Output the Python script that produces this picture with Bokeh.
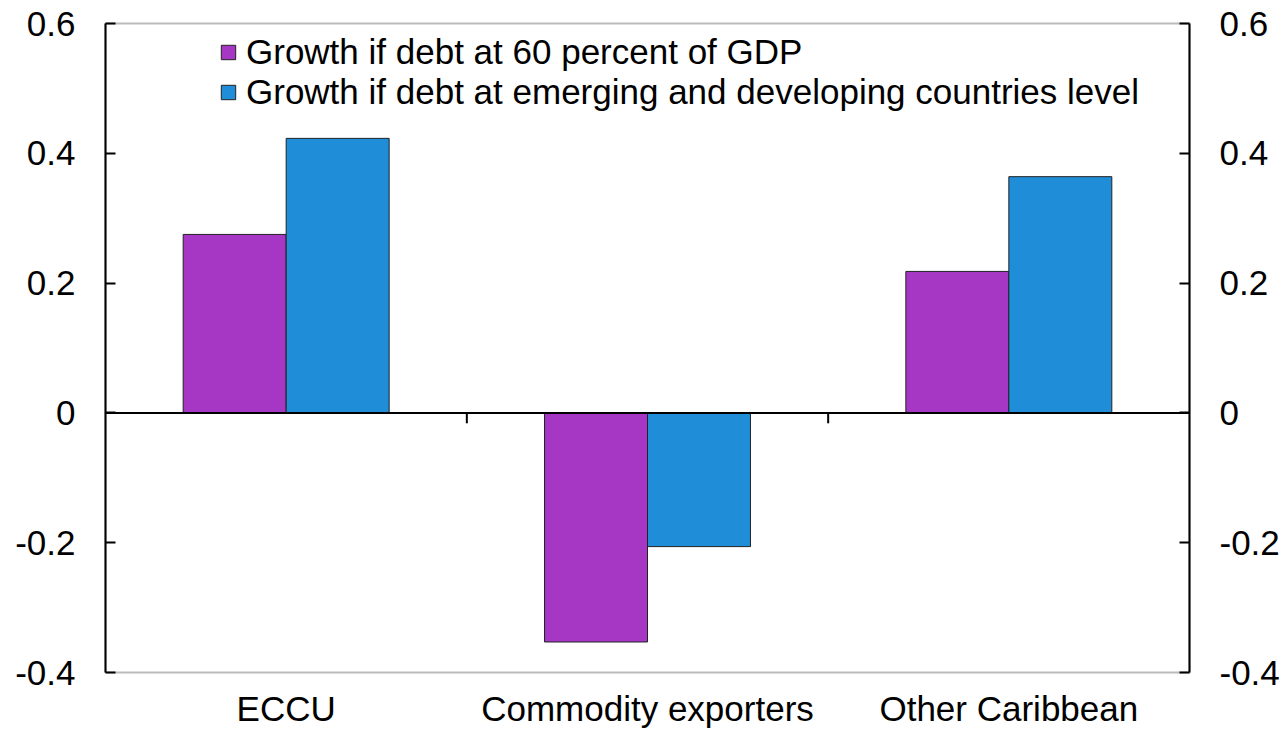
from bokeh.plotting import figure
from bokeh.models import (Range1d, LinearAxis, FixedTicker, CustomJSTickFormatter,
                          Span, Legend, LegendItem, ColumnDataSource)
from bokeh.embed import file_html
from bokeh.resources import INLINE

categories = ["ECCU", "Commodity exporters", "Other Caribbean"]
growth_60 = [0.275, -0.353, 0.218]
growth_emdc = [0.423, -0.206, 0.364]
series_names = ["Growth if debt at 60 percent of GDP",
                "Growth if debt at emerging and developing countries level"]
y_ticks = [-0.4, -0.2, 0.0, 0.2, 0.4, 0.6]

FONT = "Liberation Sans"
FS = "35px"
PURPLE = "#A537C4"
BLUE = "#1F8DD8"

n = len(categories)
centers = [i + 0.5 for i in range(n)]
bw = 0.285

src = ColumnDataSource(dict(
    x60=[c - bw / 2 for c in centers],
    xem=[c + bw / 2 for c in centers],
    g60=growth_60, gem=growth_emdc))

p = figure(width=1285, height=736, output_backend="svg", toolbar_location=None,
           x_range=Range1d(0, n), y_range=Range1d(y_ticks[0], y_ticks[-1]),
           min_border_left=105, min_border_right=96, min_border_top=23,
           min_border_bottom=64)
p.background_fill_color = "white"
p.border_fill_color = "white"
p.outline_line_color = "#BBBBBB"
p.outline_line_width = 2
p.grid.visible = False

r1 = p.vbar(x="x60", top="g60", bottom=0, width=bw, source=src,
            fill_color=PURPLE, line_color="#222222", line_width=1)
r2 = p.vbar(x="xem", top="gem", bottom=0, width=bw, source=src,
            fill_color=BLUE, line_color="#222222", line_width=1)

p.add_layout(Span(location=0, dimension="width", line_color="black", line_width=2))

# boundary ticks below the zero line
bounds = list(range(1, n))
p.segment(x0=bounds, x1=bounds, y0=[0] * len(bounds), y1=[-0.016] * len(bounds),
          line_color="black", line_width=2)

fmt = CustomJSTickFormatter(code="return Math.abs(tick) < 1e-9 ? '0' : tick.toFixed(1);")

yl = p.yaxis[0]
yl.ticker = FixedTicker(ticks=y_ticks)
yl.formatter = fmt

yr = LinearAxis(ticker=FixedTicker(ticks=y_ticks), formatter=fmt)
p.add_layout(yr, "right")

for ax in (yl, yr):
    ax.axis_line_color = "black"
    ax.axis_line_width = 2
    ax.major_tick_in = 10
    ax.major_tick_out = 0
    ax.major_tick_line_color = "black"
    ax.major_tick_line_width = 2
    ax.minor_tick_line_color = None
    ax.major_label_text_font = FONT
    ax.major_label_text_font_size = FS
    ax.major_label_text_color = "black"
    ax.major_label_standoff = 30

xa = p.xaxis[0]
xa.ticker = FixedTicker(ticks=centers)
xa.major_label_overrides = {c: name for c, name in zip(centers, categories)}
xa.axis_line_color = None
xa.major_tick_line_color = None
xa.major_tick_in = 0
xa.major_tick_out = 0
xa.minor_tick_line_color = None
xa.major_label_text_font = FONT
xa.major_label_text_font_size = FS
xa.major_label_text_color = "black"
xa.major_label_standoff = 16

legend = Legend(items=[LegendItem(label=series_names[0], renderers=[r1]),
                       LegendItem(label=series_names[1], renderers=[r2])],
                location=(114, 560))
legend.border_line_color = None
legend.background_fill_alpha = 0
legend.glyph_width = 18
legend.glyph_height = 18
legend.label_text_font = FONT
legend.label_text_font_size = FS
legend.label_text_color = "black"
legend.label_standoff = 9
legend.spacing = 0
legend.padding = 0
legend.margin = 0
p.add_layout(legend, "center")

open("out.html", "w").write(file_html(p, INLINE))
